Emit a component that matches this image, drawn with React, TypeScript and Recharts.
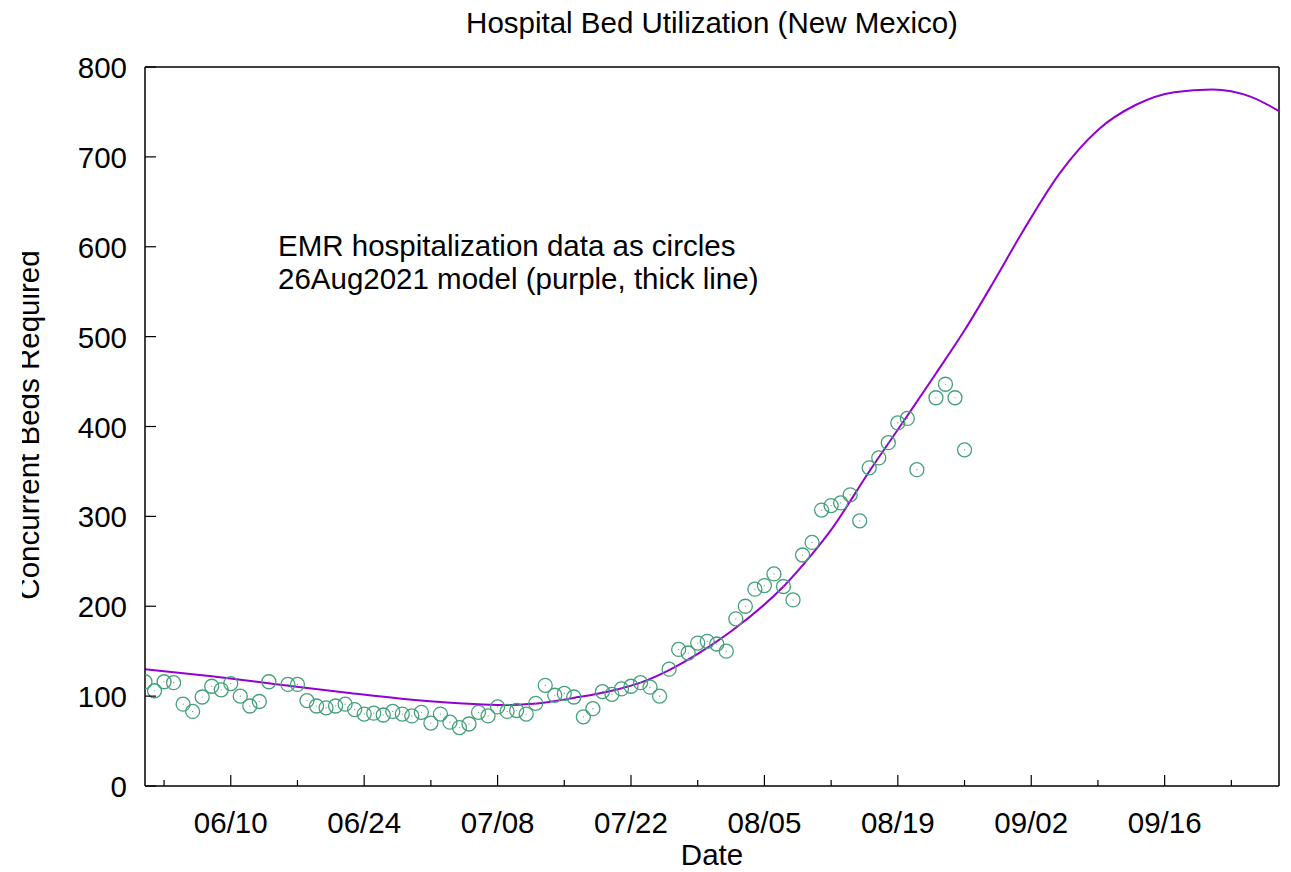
import { ComposedChart, Line, ReferenceLine, Scatter, XAxis, YAxis } from "recharts";

// days counted from 06/01/2021
const obsDays = [
  0, 1, 2, 3, 4, 5, 6, 7, 8, 9, 10, 11, 12, 13, 15, 16, 17, 18, 19, 20, 21, 22, 23, 24, 25, 26, 27, 28, 29, 30,
  31, 32, 33, 34, 35, 36, 37, 38, 39, 40, 41, 42, 43, 44, 45, 46, 47, 48, 49, 50, 51, 52, 53, 54, 55, 56, 57, 58,
  59, 60, 61, 62, 63, 64, 65, 66, 67, 68, 69, 70, 71, 72, 73, 74, 75, 76, 77, 78, 79, 80, 81, 83, 84, 85, 86
];
const obsBeds = [
  116, 106, 116, 115, 91, 83, 99, 111, 107, 114, 100, 89, 94, 116, 113, 113, 95, 89, 87, 89, 91, 85, 80, 81, 79, 83,
  80, 78, 82, 70, 80, 71, 65, 69, 82, 78, 88, 83, 84, 80, 92, 112, 101, 103, 99, 77, 86, 105, 102, 108, 111, 115, 110,
  100, 130, 152, 148, 159, 161, 158, 150, 186, 200, 219, 223, 236, 222, 207, 257, 271, 307, 312, 315, 324, 295, 354,
  365, 382, 404, 409, 352, 432, 447, 432, 374
];

const modelDays = [0, 7, 14, 21, 28, 35, 38, 42, 45, 49, 52, 55, 58, 62, 67, 70, 72, 76, 80, 83, 86, 89, 92, 96, 100, 104, 108, 112, 116, 119];
const modelBeds = [130, 122, 113, 104, 96, 91, 90, 93, 98, 106, 115, 129, 147, 176, 222, 258, 285, 350, 412, 459, 507, 560, 615, 682, 730, 758, 772, 775, 767, 751];

const majorTickDays = [9, 23, 37, 51, 65, 79, 93, 107];
const majorTickLabels = ["06/10", "06/24", "07/08", "07/22", "08/05", "08/19", "09/02", "09/16"];
const minorTickDays = [2, 16, 30, 44, 58, 72, 86, 100, 114];
const yTicks = [0, 100, 200, 300, 400, 500, 600, 700, 800];
const xMax = 119;
const yMax = 800;

const obsData = obsDays.map((d, i) => ({ day: d, beds: obsBeds[i] }));
const modelData = modelDays.map((d, i) => ({ day: d, beds: modelBeds[i] }));
const xTicks = [...minorTickDays, ...majorTickDays].sort((a, b) => a - b);

const FONT = "'Liberation Sans', Arial, Helvetica, sans-serif";
const FS = 29.5;

function XTick(props: any) {
  const { x, y, payload } = props;
  const idx = majorTickDays.indexOf(payload.value);
  const major = idx >= 0;
  return (
    <g>
      <line x1={x} y1={y} x2={x} y2={y - (major ? 11 : 6)} stroke="#000" strokeWidth={1.2} />
      {major && (
        <text x={x} y={y + 47} textAnchor="middle" fontSize={FS} fontFamily={FONT} fill="#000">
          {majorTickLabels[idx]}
        </text>
      )}
    </g>
  );
}

function YTick(props: any) {
  const { x, y, payload } = props;
  return (
    <g>
      <line x1={x} y1={y} x2={x + 11} y2={y} stroke="#000" strokeWidth={1.2} />
      <text x={x - 18} y={y + 11} textAnchor="end" fontSize={FS} fontFamily={FONT} fill="#000">
        {payload.value}
      </text>
    </g>
  );
}

function OpenCircle(props: any) {
  const { cx, cy } = props;
  return (
    <g>
      <circle cx={cx} cy={cy} r={7} fill="none" stroke="#44a07a" strokeWidth={1.3} />
      <circle cx={cx} cy={cy} r={0.6} fill="#44a07a" />
    </g>
  );
}

export default function App() {
  return (
    <div style={{ position: "fixed", left: 0, top: 0, width: 1291, height: 872, clipPath: "inset(0 0 0 22px)", background: "#fff" }}>
      <ComposedChart width={1291} height={872} margin={{ top: 67, right: 12, bottom: 0, left: 0 }}>
        <XAxis
          type="number"
          dataKey="day"
          domain={[0, xMax]}
          ticks={xTicks}
          interval={0}
          height={86}
          tickSize={0}
          tickMargin={0}
          tickLine={false}
          tick={<XTick />}
          axisLine={{ stroke: "#000", strokeWidth: 1.5 }}
          allowDataOverflow
        />
        <YAxis
          type="number"
          domain={[0, yMax]}
          ticks={yTicks}
          interval={0}
          width={145}
          tickSize={0}
          tickMargin={0}
          tickLine={false}
          tick={<YTick />}
          axisLine={{ stroke: "#000", strokeWidth: 1.5 }}
          allowDataOverflow
        />
        <ReferenceLine y={yMax} stroke="#000" strokeWidth={1.5} />
        <ReferenceLine x={xMax} stroke="#000" strokeWidth={1.5} />
        <Line
          data={modelData}
          dataKey="beds"
          type="monotone"
          stroke="#9400d3"
          strokeWidth={2}
          dot={false}
          activeDot={false}
          isAnimationActive={false}
        />
        <Scatter data={obsData} dataKey="beds" shape={<OpenCircle />} isAnimationActive={false} />
      </ComposedChart>
      <svg width={1291} height={872} style={{ position: "absolute", left: 0, top: 0, pointerEvents: "none" }}>
        <text x={712} y={33} textAnchor="middle" fontSize={FS} fontFamily={FONT} fill="#000">
          Hospital Bed Utilization (New Mexico)
        </text>
        <text x={278} y={256} fontSize={FS} fontFamily={FONT} fill="#000">
          EMR hospitalization data as circles
        </text>
        <text x={278} y={289} fontSize={FS} fontFamily={FONT} fill="#000">
          26Aug2021 model (purple, thick line)
        </text>
        <text x={712} y={865} textAnchor="middle" fontSize={FS} fontFamily={FONT} fill="#000">
          Date
        </text>
        <text x={39} y={425} transform="rotate(-90 39 425)" textAnchor="middle" fontSize={FS} fontFamily={FONT} fill="#000">
          Concurrent Beds Required
        </text>
      </svg>
    </div>
  );
}
